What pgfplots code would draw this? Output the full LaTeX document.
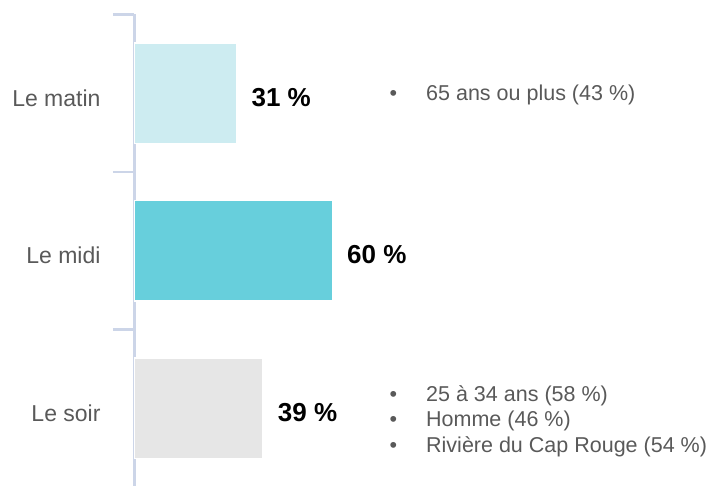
\documentclass[border=0pt]{standalone}
\usepackage{pgfplots}
\pgfplotsset{compat=1.18}
\usepackage{fontspec}
\setmainfont{Liberation Sans}
\definecolor{axiscol}{RGB}{204,213,232}
\definecolor{txtgray}{RGB}{89,89,89}
\definecolor{cmatin}{RGB}{205,236,241}
\definecolor{cmidi}{RGB}{103,207,220}
\definecolor{csoir}{RGB}{230,230,230}
\begin{document}
\begin{tikzpicture}
\begin{axis}[
  at={(0,0)}, anchor=south west,
  scale only axis,
  width=575.5pt, height=472.5pt,
  xmin=0, xmax=174.4,
  ymin=-0.5, ymax=2.5,
  y dir=reverse,
  axis x line=none,
  axis y line*=left,
  y axis line style={draw=axiscol, line width=2.2pt, -},
  ytick={0,1,2},
  yticklabels={Le matin, Le midi, Le soir},
  major tick length=0pt,
  minor ytick={-0.5,0.5,1.5,2.5},
  minor tick length=21.5pt,
  tick align=outside,
  every minor tick/.append style={draw=axiscol, line width=2.2pt},
  minor tick style={draw=axiscol, line width=2.2pt},
  yticklabel style={anchor=base east, inner sep=0pt, xshift=-33.8pt, yshift=-13pt,
    font=\fontsize{23}{27}\selectfont, text=txtgray},
  /pgf/number format/assume math mode=true,
  xbar, bar width=0.641, bar shift=0pt,
  nodes near coords={\pgfmathprintnumber[assume math mode=true]{\pgfplotspointmeta}~\%},
  point meta=explicit,
  every node near coord/.append style={anchor=base west, inner sep=0pt, xshift=14pt, yshift=-13pt,
    font=\fontsize{26}{30}\selectfont\bfseries, text=black},
  clip=false,
]
\addplot[fill=cmatin, draw=white, line width=1.5pt] coordinates {(31,0) [31]};
\addplot[fill=cmidi, draw=white, line width=1.5pt] coordinates {(60,1) [60]};
\addplot[fill=csoir, draw=white, line width=1.5pt] coordinates {(39,2) [39]};
\end{axis}
\begin{scope}[every node/.style={anchor=base west, inner sep=0pt, text=txtgray, font=\fontsize{21.5}{25}\selectfont}]
\node at (255pt,386pt) {•};
\node at (291.5pt,386pt) {65 ans ou plus (43 \%)};
\node at (255pt,85.3pt) {•};
\node at (291.5pt,85.3pt) {25 à 34 ans (58 \%)};
\node at (255pt,60pt) {•};
\node at (291.5pt,60pt) {Homme (46 \%)};
\node at (255pt,34pt) {•};
\node at (291.5pt,34pt) {Rivière du Cap Rouge (54 \%)};
\end{scope}
\pgfresetboundingbox
\path[use as bounding box] (-134.5pt,1pt) rectangle (575.5pt,487pt);
\end{tikzpicture}
\end{document}
